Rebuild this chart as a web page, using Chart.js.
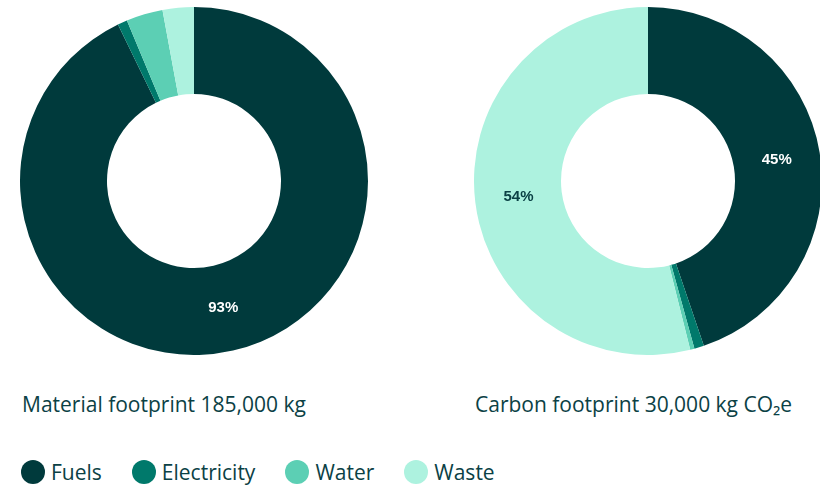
<!DOCTYPE html>
<html lang="en">
<head>
    <meta charset="UTF-8">
    <title>Footprint</title>
    <script src="https://cdn.jsdelivr.net/npm/chart.js@4.4.1/dist/chart.umd.min.js"></script>
    <style>
        body {
            margin: 0;
            width: 820px;
            height: 488px;
            overflow: hidden;
            background: #fff;
            font-family: "Source Sans Pro", "Open Sans", sans-serif;
            color: #0b4145;
            position: relative;
        }

        .chart-box {
            position: absolute;
            top: 7px;
            width: 348px;
            height: 348px;
        }

        .title {
            position: absolute;
            top: 390px;
            font-size: 21px;
            white-space: nowrap;
        }

        .legend {
            position: absolute;
            left: 21px;
            top: 458px;
            display: flex;
            align-items: center;
            font-size: 21px;
        }

        .legend-item {
            display: flex;
            align-items: center;
            margin-right: 30px;
        }

        .dot {
            width: 24px;
            height: 24px;
            border-radius: 50%;
            margin-right: 6px;
        }
    </style>
</head>
<body>
    <div class="chart-box" style="left: 20px;"><canvas id="materialChart"></canvas></div>
    <div class="chart-box" style="left: 474px;"><canvas id="carbonChart"></canvas></div>

    <div class="title" style="left: 22px;">Material footprint 185,000 kg</div>
    <div class="title" style="left: 475px;">Carbon footprint 30,000 kg CO₂e</div>

    <div class="legend" id="legend"></div>

    <script>
        const categories = ['Fuels', 'Electricity', 'Water', 'Waste'];
        const colors = ['#003a3c', '#00796b', '#5ccfb4', '#adf2df'];
        const labelColors = ['#ffffff', '#ffffff', '#0b4145', '#0b4145'];

        // share of each category, in percent
        const materialValues = [92.8, 0.9, 3.4, 2.9];
        const carbonValues = [44.8, 0.9, 0.4, 53.9];

        // percentage text in the middle of big slices
        const sliceLabels = {
            id: 'sliceLabels',
            afterDatasetsDraw(chart) {
                const ctx = chart.ctx;
                const data = chart.data.datasets[0].data;
                const total = data.reduce((a, b) => a + b, 0);
                chart.getDatasetMeta(0).data.forEach((arc, i) => {
                    const pct = data[i] / total * 100;
                    if (pct < 10) return;
                    const p = arc.getCenterPoint();
                    ctx.save();
                    ctx.font = 'bold 15px "Liberation Sans", Arial, sans-serif';
                    ctx.fillStyle = labelColors[i];
                    ctx.textAlign = 'center';
                    ctx.textBaseline = 'middle';
                    ctx.fillText(Math.round(pct) + '%', p.x, p.y);
                    ctx.restore();
                });
            }
        };

        function makeDoughnut(id, values) {
            new Chart(document.getElementById(id), {
                type: 'doughnut',
                data: {
                    labels: categories,
                    datasets: [{
                        data: values,
                        backgroundColor: colors,
                        borderWidth: 0
                    }]
                },
                options: {
                    responsive: true,
                    maintainAspectRatio: false,
                    animation: false,
                    cutout: '50%',
                    layout: { padding: 0 },
                    plugins: {
                        legend: { display: false },
                        tooltip: { enabled: false }
                    }
                },
                plugins: [sliceLabels]
            });
        }

        makeDoughnut('materialChart', materialValues);
        makeDoughnut('carbonChart', carbonValues);

        const legend = document.getElementById('legend');
        categories.forEach((name, i) => {
            legend.innerHTML += `<div class="legend-item"><span class="dot" style="background:${colors[i]}"></span>${name}</div>`;
        });
    </script>
</body>
</html>
